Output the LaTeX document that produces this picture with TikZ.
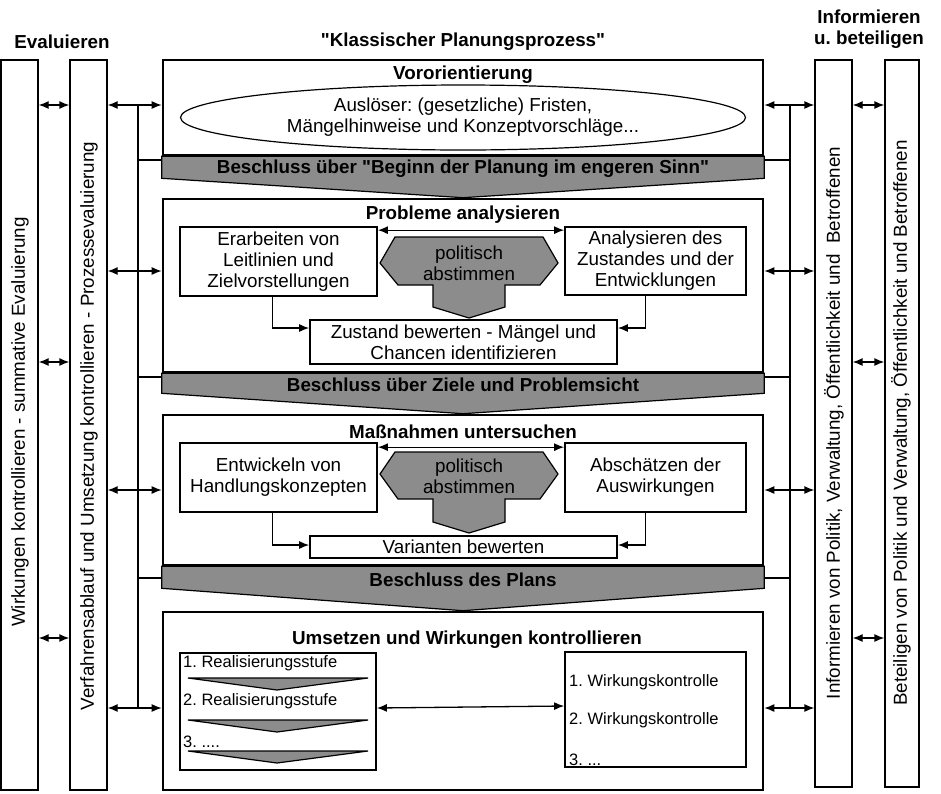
\documentclass[tikz,border=0pt]{standalone}
\usepackage{fontspec}
\setmainfont{Liberation Sans}
\usepackage{tikz}
\usetikzlibrary{shapes, arrows.meta, positioning, backgrounds}

\definecolor{bandgrau}{RGB}{140,140,140}
\newcommand{\grundschrift}{\fontsize{18.8}{21}\selectfont\frenchspacing}
\newcommand{\listenschrift}{\fontsize{16.5}{19}\selectfont\frenchspacing}

\tikzset{
  mainbox/.style={draw, line width=2.6pt, minimum width=600, inner sep=0},
  subbox/.style={draw, line width=1.7pt, align=center, inner sep=0, font=\grundschrift},
  colbox/.style={draw, line width=1.3pt, inner sep=0, minimum height=730},
  coltext/.style={rotate=90, inner sep=0, font=\grundschrift},
  txt/.style={align=center, inner sep=0, font=\grundschrift},
  titel/.style={align=center, inner sep=0, font=\grundschrift\bfseries},
  item/.style={anchor=west, inner sep=0, font=\listenschrift},
  band/.style={fill=bandgrau, draw, line width=1.2pt},
  polit/.style={fill=bandgrau, draw, line width=1.2pt},
  link/.style={line width=1.3pt},
}

\begin{document}
\begin{tikzpicture}[x=1pt, y=-1pt, >={Latex[length=10pt,width=8pt]}]
  \useasboundingbox (0,0) rectangle (941,793);

  \node[titel] (evalhd) at (62,42) {Evaluieren};
  \node[titel] (klassik) at (463,42) {\textquotedbl Klassischer Planungsprozess\textquotedbl};
  \node[titel] (infohd) at (869,29) {Informieren\\u. beteiligen};

  \node[colbox, minimum width=37] (wirk) at (19.5,425) {};
  \node[colbox, minimum width=37] (verf) at (88.5,425) {};
  \node[colbox, minimum width=37, minimum height=727] (info) at (833.5,423.5) {};
  \node[colbox, minimum width=34, minimum height=727] (betei) at (902,423.5) {};
  \node[coltext] (wirkt) at (20,422) {Wirkungen kontrollieren - summative Evaluierung};
  \node[coltext] (verft) at (89,426) {Verfahrensablauf und Umsetzung kontrollieren - Prozessevaluierung};
  \node[coltext] (infot) at (834,423) {Informieren von Politik, Verwaltung, Öffentlichkeit und~ Betroffenen};
  \node[coltext] (beteit) at (901,423) {Beteiligen von Politik und Verwaltung, Öffentlichkeit und Betroffenen};

  \node[mainbox, minimum height=95] (vor) at (463,107.5) {};
  \node[titel] (vortit) at (463,75) {Vororientierung};
  \node[draw, ellipse, line width=1.2pt, minimum width=565, minimum height=65, txt] (ausl) at (463,117.5)
    {Auslöser: (gesetzliche) Fristen,\\Mängelhinweise und Konzeptvorschläge...};

  \node[mainbox, minimum height=173] (prob) at (463,285.5) {};
  \node[titel] (probtit) at (463,215) {Probleme analysieren};
  \node[subbox, minimum width=197, minimum height=69] (erarb) at (278.5,261.5) {Erarbeiten von\\Leitlinien und\\Zielvorstellungen};
  \node[subbox, minimum width=181, minimum height=68] (analys) at (655.5,261) {Analysieren des\\Zustandes und der\\Entwicklungen};
  \node[subbox, minimum width=307, minimum height=44] (zust) at (463.5,342) {Zustand bewerten - Mängel und\\Chancen identifizieren};
  \filldraw[polit, shift={(469,263)}] (-74,-26) -- (74,-26) -- (89,0) -- (71,22) -- (36,22) -- (36,44) -- (0,55)
    -- (-36,44) -- (-36,22) -- (-71,22) -- (-89,0) -- cycle;
  \node[txt] (pol1) at (469,263) {politisch\\abstimmen};
  \draw[link, <->] ([yshift=-4pt]erarb.north east) -- ([yshift=-4pt]analys.north west);
  \draw[link, ->] ([xshift=-6pt]erarb.south) |- ([yshift=14pt]zust.west);
  \draw[link, ->] ([xshift=-10pt]analys.south) |- ([yshift=14pt]zust.east);

  \node[mainbox, minimum height=150] (mass) at (463,490) {};
  \node[titel] (masstit) at (463,432) {Maßnahmen untersuchen};
  \node[subbox, minimum width=197, minimum height=69] (entw) at (278.5,477.5) {Entwickeln von\\Handlungskonzepten};
  \node[subbox, minimum width=181, minimum height=69] (absch) at (655.5,477.5) {Abschätzen der\\Auswirkungen};
  \node[subbox, minimum width=307, minimum height=22] (var) at (463.5,547) {Varianten bewerten};
  \filldraw[polit, shift={(469,474)}] (-74,-22) -- (74,-22) -- (89,0) -- (71,25) -- (36,25) -- (36,48) -- (0,59)
    -- (-36,48) -- (-36,25) -- (-71,25) -- (-89,0) -- cycle;
  \node[txt] (pol2) at (469,476) {politisch\\abstimmen};
  \draw[link, <->] ([yshift=-5pt]entw.north east) -- ([yshift=-5pt]absch.north west);
  \draw[link, ->] ([xshift=-6pt]entw.south) |- ([yshift=2pt]var.west);
  \draw[link, ->] ([xshift=-10pt]absch.south) |- ([yshift=2pt]var.east);

  \node[mainbox, minimum height=178] (ums) at (463,701) {};
  \node[titel] (umstit) at (467,640) {Umsetzen und Wirkungen kontrollieren};
  \node[subbox, minimum width=196, minimum height=117] (real) at (278,711.5) {};
  \node[item] (r1) at (183,663) {1. Realisierungsstufe};
  \node[item] (r2) at (183,701) {2. Realisierungsstufe};
  \node[item] (r3) at (183,742) {3. ....};
  \foreach \y in {678,720,751}
    \filldraw[polit] (188,\y) -- (368,\y) -- (277,\y+12) -- cycle;
  \node[subbox, minimum width=181, minimum height=115] (wkon) at (655.5,709.5) {};
  \node[item] (w1) at (569,682) {1. Wirkungskontrolle};
  \node[item] (w2) at (569,720) {2. Wirkungskontrolle};
  \node[item] (w3) at (569,760) {3. ...};
  \draw[link, <->] ([yshift=3.5pt]real.east) -- ([yshift=3.5pt]wkon.west);

  \begin{scope}[on background layer]
    \filldraw[band] (vor.south west) -- (vor.south east) -- ++(0,22) -- (prob.north)
      -- ([yshift=-22pt]vor.south west) -- cycle;
    \filldraw[band] (prob.south west) -- (prob.south east) -- ++(0,20) -- (mass.north)
      -- ([yshift=-20pt]prob.south west) -- cycle;
    \filldraw[band] (mass.south west) -- (mass.south east) -- ++(0,22) -- (ums.north)
      -- ([yshift=-22pt]mass.south west) -- cycle;
  \end{scope}
  \node[titel] (b1) at (463,169) {Beschluss über \textquotedbl Beginn der Planung im engeren Sinn\textquotedbl};
  \node[titel] (b2) at (463,385) {Beschluss über Ziele und Problemsicht};
  \node[titel] (b3) at (463,580) {Beschluss des Plans};

  \coordinate (lo) at (138,105);
  \coordinate (lu) at (138,708);
  \coordinate (ro) at (790,105);
  \coordinate (ru) at (790,708);
  \draw[link] (lo) -- (lu);
  \draw[link] (ro) -- (ru);
  \foreach \b/\y in {vor/105, prob/271, mass/490, ums/708} {
    \draw[link, <->] (verf.east |- 0,\y) -- (\b.west |- 0,\y);
    \draw[link, <->] (\b.east |- 0,\y) -- (info.west |- 0,\y);
  }
  \foreach \b/\y in {vor/160, prob/377, mass/578} {
    \draw[link] (lo |- 0,\y) -- (\b.west |- 0,\y);
    \draw[link] (\b.east |- 0,\y) -- (ro |- 0,\y);
  }
  \foreach \y in {105, 362, 638} {
    \draw[link, <->] (wirk.east |- 0,\y) -- (verf.west |- 0,\y);
    \draw[link, <->] (info.east |- 0,\y) -- (betei.west |- 0,\y);
  }
\end{tikzpicture}
\end{document}
